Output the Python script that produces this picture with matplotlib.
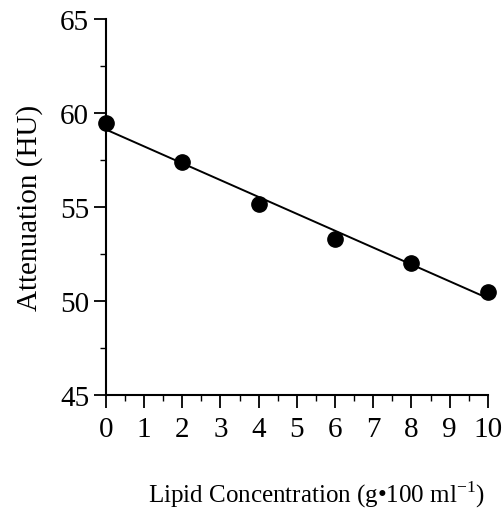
import numpy as np
import matplotlib
matplotlib.use("Agg")
import matplotlib.pyplot as plt
from matplotlib.ticker import MultipleLocator

# data
lipid = [0, 2, 4, 6, 8, 10]
attenuation = [59.45, 57.4, 55.15, 53.3, 52.0, 50.5]

x_ticks = list(range(0, 11))
y_ticks = [45, 50, 55, 60, 65]

plt.rcParams["font.family"] = ["Liberation Serif", "DejaVu Serif"]
plt.rcParams["mathtext.fontset"] = "custom"
plt.rcParams["mathtext.rm"] = "Liberation Serif"

fig = plt.figure(figsize=(5.04, 5.10), dpi=100)
ax = fig.add_axes([0.210, 0.2235, 0.758, 0.7375])

# least squares line through the points
slope, intercept = np.polyfit(lipid, attenuation, 1)
xs = np.array([lipid[0], lipid[-1]])
ax.plot(xs, slope * xs + intercept, color="black", lw=1.4, zorder=2)
ax.plot(lipid, attenuation, "o", color="black", ms=11, zorder=3, clip_on=False)

ax.set_xlim(0, 10)
ax.set_ylim(45, 65)
ax.set_xticks(x_ticks)
ax.set_yticks(y_ticks)
ax.xaxis.set_minor_locator(MultipleLocator(0.5))
ax.yaxis.set_minor_locator(MultipleLocator(2.5))

for side in ("top", "right"):
    ax.spines[side].set_visible(False)
for side in ("left", "bottom"):
    ax.spines[side].set_linewidth(1.5)

ax.tick_params(axis="both", which="major", direction="out", length=9, width=1.3,
               labelsize=21, pad=3)
ax.tick_params(axis="x", which="major", pad=6)
ax.tick_params(axis="both", which="minor", direction="out", length=4, width=1.0)

ax.set_ylabel("Attenuation (HU)", fontsize=21, labelpad=4)
ax.yaxis.set_label_coords(-0.165, 0.5)
fig.text(0.627, 0.03, "Lipid Concentration (g\u2022100 ml$^{\\mathregular{-1}}$)",
         fontsize=18, ha="center", va="center")

fig.savefig("out.png", dpi=100)
